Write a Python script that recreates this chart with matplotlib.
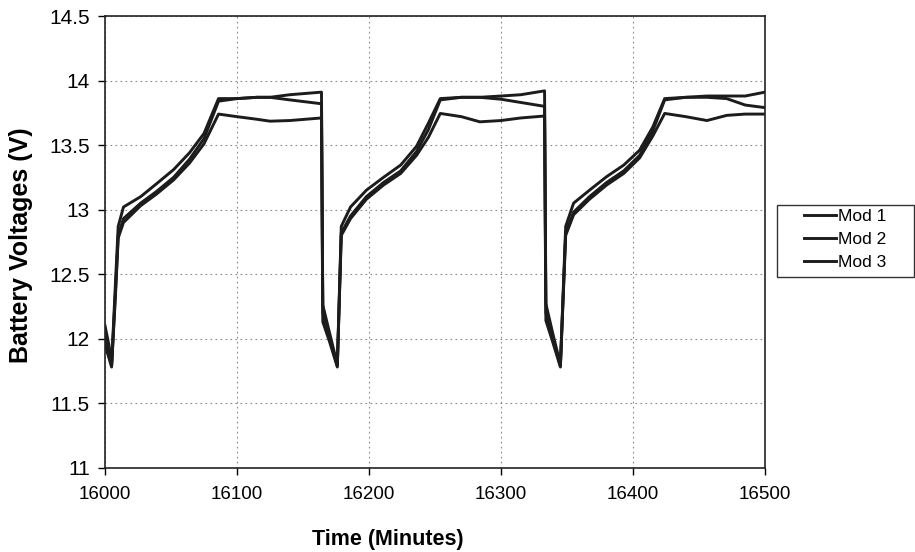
import matplotlib
matplotlib.use("Agg")
import matplotlib.pyplot as plt
from matplotlib.patches import Rectangle

plt.rcParams['font.family'] = ['Liberation Sans', 'DejaVu Sans']

# time in minutes (shared by the three modules)
time_min = [16000, 16003, 16005, 16008, 16010, 16014, 16027, 16039, 16052, 16064, 16075, 16086,
            16100, 16115, 16125, 16140, 16152, 16164,
            16165, 16170, 16176, 16179, 16186, 16198, 16211, 16224, 16236, 16245, 16254,
            16270, 16284, 16300, 16315, 16333,
            16334, 16339, 16345, 16349, 16355, 16367, 16380, 16393, 16405, 16415, 16424,
            16440, 16456, 16471, 16485, 16500]

mod1 = [12.10, 11.95, 11.80, 12.45, 12.87, 13.02, 13.10, 13.20, 13.31, 13.44, 13.59, 13.86,
        13.86, 13.87, 13.87, 13.89, 13.90, 13.91,
        12.26, 12.05, 11.80, 12.87, 13.02, 13.15, 13.25, 13.345, 13.49, 13.67, 13.86,
        13.87, 13.87, 13.88, 13.89, 13.92,
        12.27, 12.05, 11.80, 12.87, 13.05, 13.15, 13.255, 13.345, 13.46, 13.64, 13.86,
        13.87, 13.88, 13.88, 13.88, 13.91]

mod2 = [12.02, 11.88, 11.79, 12.38, 12.80, 12.93, 13.05, 13.14, 13.25, 13.39, 13.55, 13.84,
        13.86, 13.87, 13.87, 13.85, 13.835, 13.82,
        12.20, 12.00, 11.79, 12.82, 12.95, 13.10, 13.21, 13.30, 13.45, 13.62, 13.85,
        13.87, 13.87, 13.855, 13.83, 13.80,
        12.20, 12.00, 11.79, 12.82, 12.98, 13.10, 13.21, 13.30, 13.42, 13.61, 13.85,
        13.87, 13.87, 13.86, 13.81, 13.79]

mod3 = [11.95, 11.85, 11.78, 12.35, 12.78, 12.90, 13.03, 13.12, 13.23, 13.36, 13.51, 13.74,
        13.72, 13.70, 13.685, 13.69, 13.70, 13.71,
        12.13, 11.98, 11.78, 12.80, 12.93, 13.08, 13.19, 13.28, 13.42, 13.56, 13.745,
        13.72, 13.68, 13.69, 13.71, 13.725,
        12.14, 11.98, 11.78, 12.80, 12.96, 13.08, 13.19, 13.28, 13.40, 13.57, 13.745,
        13.72, 13.69, 13.73, 13.74, 13.74]

labels = ["Mod 1", "Mod 2", "Mod 3"]
x_ticks = [16000, 16100, 16200, 16300, 16400, 16500]
y_ticks = [11, 11.5, 12, 12.5, 13, 13.5, 14, 14.5]

W, H = 915, 552
fig = plt.figure(figsize=(W / 100, H / 100), dpi=100)
ax = fig.add_axes([105 / W, 1 - 467.7 / H, 660 / W, 451.7 / H])

for series, lab in zip([mod1, mod2, mod3], labels):
    ax.plot(time_min, series, color='#1c1c1c', lw=2.1, label=lab)

ax.set_xlim(16000, 16500)
ax.set_ylim(11, 14.5)
ax.set_xticks(x_ticks)
ax.set_yticks(y_ticks)
ax.set_yticklabels([f"{v:g}" for v in y_ticks])
ax.grid(True, linestyle=(0, (1.5, 3)), color='#8a8a8a', lw=0.8)
ax.tick_params(direction='out', length=5, width=1, pad=6)
ax.tick_params(axis='x', labelsize=13.5, pad=8)
ax.tick_params(axis='y', labelsize=15)
for s in ax.spines.values():
    s.set_linewidth(1.2)
    s.set_color('#222222')

ax.set_xlabel("Time (Minutes)", fontsize=15.5, fontweight='bold')
ax.xaxis.set_label_coords((387.5 - 105) / 660, (467.7 - 529) / 451.7)
ax.set_ylabel("Battery Voltages (V)", fontsize=18, fontweight='bold')
ax.yaxis.set_label_coords((33 - 105) / 660, (467.7 - 245) / 451.7)

# legend box (drawn by hand so the padding matches)
fig.patches.append(Rectangle((777 / W, 1 - 277 / H), 137 / W, 72 / H,
                             transform=fig.transFigure, fill=False,
                             edgecolor='#333333', lw=1.0))
ax.legend(loc='center left', bbox_to_anchor=(795 / W, 1 - 239.5 / H),
          bbox_transform=fig.transFigure, fontsize=12.5, frameon=False,
          handlelength=1.85, handletextpad=0.1, labelspacing=0.45, borderpad=0.0)

plt.savefig("out.png", dpi=100)
